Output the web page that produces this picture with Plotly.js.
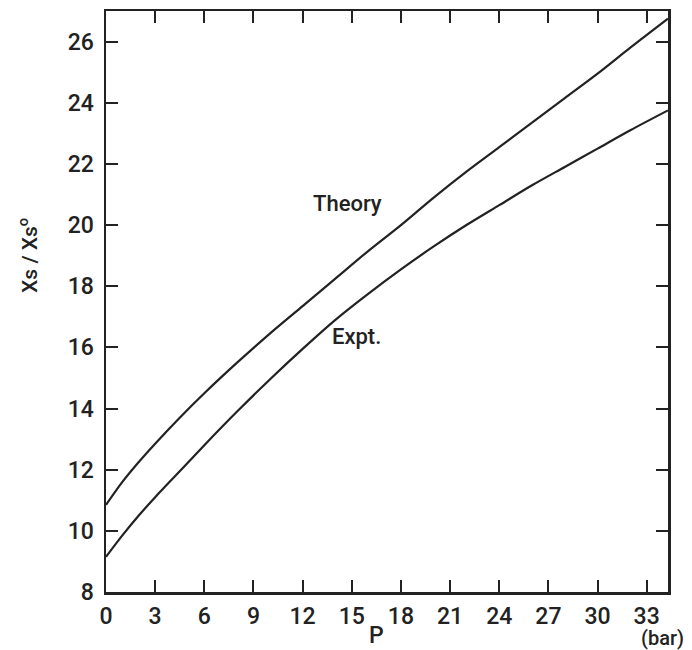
<!DOCTYPE html>
<html>
<head>
<meta charset="utf-8">
<script src="https://cdn.plot.ly/plotly-3.0.1.min.js"></script>
<style>
  html, body { margin: 0; padding: 0; background: #ffffff; }
  #plot { width: 692px; height: 650px; }
</style>
</head>
<body>
<div id="plot"></div>
<script>
// Pressure (bar)
const pressure = [0, 1, 2, 3, 4.5, 6, 8, 10, 12, 14, 16, 18, 20, 22, 24, 26, 28, 30, 32, 34.3];
// Susceptibility enhancement, theory curve
const theory = [10.85, 11.6, 12.25, 12.85, 13.7, 14.5, 15.5, 16.45, 17.35, 18.25, 19.15, 20.0, 20.9, 21.75, 22.55, 23.35, 24.15, 24.95, 25.8, 26.75];
// Susceptibility enhancement, experimental curve
const expt = [9.15, 9.85, 10.5, 11.1, 11.95, 12.8, 13.9, 14.95, 15.95, 16.9, 17.75, 18.55, 19.3, 20.0, 20.65, 21.3, 21.9, 22.5, 23.1, 23.75];

const xTicks = [0, 3, 6, 9, 12, 15, 18, 21, 24, 27, 30, 33];
const yTicks = [8, 10, 12, 14, 16, 18, 20, 22, 24, 26];

const ink = '#222222';
const font = 'Roboto, "DejaVu Sans", sans-serif';

const traces = [
  { x: pressure, y: theory, name: 'Theory', mode: 'lines', line: { color: ink, width: 2.2, shape: 'spline', smoothing: 0.8 } },
  { x: pressure, y: expt, name: 'Expt.', mode: 'lines', line: { color: ink, width: 2.2, shape: 'spline', smoothing: 0.8 } }
];

const axisCommon = {
  showgrid: false,
  zeroline: false,
  showline: true,
  linecolor: ink,
  linewidth: 2.5,
  mirror: 'ticks',
  ticks: 'inside',
  ticklen: 12,
  tickwidth: 2,
  tickcolor: ink,
  tickfont: { family: font, size: 23, color: ink, weight: 500 }
};

const layout = {
  width: 692,
  height: 650,
  margin: { l: 106, r: 24, t: 11, b: 58 },
  paper_bgcolor: '#ffffff',
  plot_bgcolor: '#ffffff',
  showlegend: false,
  xaxis: Object.assign({}, axisCommon, {
    range: [0, 34.3],
    tickvals: xTicks,
    ticktext: xTicks.map(String),
    ticklabelstandoff: 2
  }),
  yaxis: Object.assign({}, axisCommon, {
    range: [8, 27],
    tickvals: yTicks,
    ticktext: yTicks.map(String),
    ticklabelstandoff: 5
  }),
  annotations: [
    { text: 'Theory', x: 14.71, y: 20.69, xref: 'x', yref: 'y', showarrow: false,
      xanchor: 'center', yanchor: 'middle',
      font: { family: font, size: 22, color: ink, weight: 500 } },
    { text: 'Expt.', x: 15.26, y: 16.37, xref: 'x', yref: 'y', showarrow: false,
      xanchor: 'center', yanchor: 'middle',
      font: { family: font, size: 22, color: ink, weight: 500 } },
    { text: 'P', x: 0.482, y: -0.0757, xref: 'paper', yref: 'paper', showarrow: false,
      xanchor: 'center', yanchor: 'middle',
      font: { family: font, size: 23, color: ink, weight: 500 } },
    { text: '(bar)', x: 0.991, y: -0.08, xref: 'paper', yref: 'paper', showarrow: false,
      xanchor: 'center', yanchor: 'middle',
      font: { family: font, size: 20, color: ink, weight: 500 } },
    { text: 'Xs / Xs<sup>o</sup>', x: -0.139, y: 0.58, xref: 'paper', yref: 'paper', showarrow: false,
      xanchor: 'center', yanchor: 'middle',
      textangle: -90, font: { family: font, size: 21, color: ink, weight: 500 } }
  ]
};

Plotly.newPlot('plot', traces, layout, { displayModeBar: false, staticPlot: true });
</script>
</body>
</html>
